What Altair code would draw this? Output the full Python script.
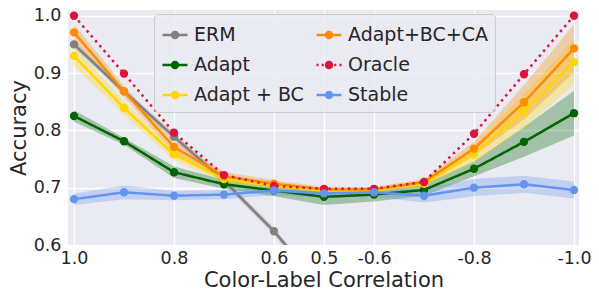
import json
import altair as alt
import pandas as pd

# ---------------- data ----------------
corr_labels = ['1.0', '0.9', '0.8', '0.7', '0.6', '0.5', '-0.6', '-0.7', '-0.8', '-0.9', '-1.0']
tick_positions = [0, 2, 4, 5, 6, 8, 10]

series_names = ["ERM", "Adapt", "Adapt + BC", "Adapt+BC+CA", "Oracle", "Stable"]
series_colors = ["#808080", "#006400", "#FFD700", "#FF8C00", "#DC143C", "#6495ED"]

erm_mean = [0.950, 0.868, 0.789, 0.712, 0.624, 0.520, 0.430, 0.350, 0.270, 0.200, 0.130]
erm_std = [0.006, 0.005, 0.006, 0.006, 0.006, 0.006, 0.006, 0.006, 0.006, 0.006, 0.006]

adapt_mean = [0.825, 0.781, 0.727, 0.706, 0.695, 0.684, 0.688, 0.696, 0.733, 0.780, 0.830]
adapt_std = [0.010, 0.006, 0.010, 0.008, 0.010, 0.014, 0.012, 0.010, 0.013, 0.026, 0.039]

bc_mean = [0.930, 0.839, 0.758, 0.715, 0.703, 0.695, 0.695, 0.707, 0.758, 0.834, 0.919]
bc_std = [0.018, 0.012, 0.010, 0.006, 0.005, 0.004, 0.004, 0.005, 0.015, 0.030, 0.040]

bcca_mean = [0.971, 0.868, 0.771, 0.720, 0.707, 0.697, 0.697, 0.710, 0.768, 0.849, 0.943]
bcca_std = [0.015, 0.010, 0.010, 0.008, 0.006, 0.004, 0.004, 0.005, 0.012, 0.030, 0.042]

oracle_mean = [1.000, 0.899, 0.796, 0.722, 0.703, 0.698, 0.698, 0.710, 0.794, 0.898, 1.000]

stable_mean = [0.680, 0.692, 0.686, 0.688, 0.695, 0.690, 0.692, 0.686, 0.700, 0.706, 0.696]
stable_std = [0.010, 0.012, 0.008, 0.008, 0.008, 0.008, 0.008, 0.012, 0.015, 0.015, 0.015]

means = [erm_mean, adapt_mean, bc_mean, bcca_mean, oracle_mean, stable_mean]
stds = [erm_std, adapt_std, bc_std, bcca_std, None, stable_std]

# a different domain order for the drawn marks, so their hidden legends stay
# separate from the visible (series-ordered) legend
draw_order = ["Stable", "ERM", "Adapt", "Adapt + BC", "Adapt+BC+CA", "Oracle"]
draw_colors = [series_colors[series_names.index(n)] for n in draw_order]

rows, band_rows = [], []
for name, m, s in zip(series_names, means, stds):
    for i, v in enumerate(m):
        rows.append({"series": name, "idx": i, "acc": v})
        if s is not None:
            band_rows.append({"series": name, "idx": i, "lo": v - s[i], "hi": v + s[i]})
df = pd.DataFrame(rows)
df_band = pd.DataFrame(band_rows)

# ---------------- encodings ----------------
FONT = "DejaVu Sans"
TXT = "#262626"

label_expr = json.dumps(corr_labels) + "[datum.value]"

X = alt.X("idx:Q", scale=alt.Scale(domain=[-0.12, 10.1], nice=False, zero=False),
          axis=alt.Axis(values=tick_positions, labelExpr=label_expr,
                        title="Color-Label Correlation"))
Y_SCALE = alt.Scale(domain=[0.6, 1.01], nice=False, zero=False)
Y_AXIS = alt.Axis(values=[0.6, 0.7, 0.8, 0.9, 1.0], format=".1f", title="Accuracy")


def data_scale():
    return alt.Scale(domain=draw_order, range=draw_colors)


dash_range = [[2.5, 4] if n == "Oracle" else [1, 0] for n in draw_order]

disc = ("M-0.24,0A0.24,0.24,0,1,0,0.24,0A0.24,0.24,0,1,0,-0.24,0"
        "M-0.1,0A0.1,0.1,0,1,0,0.1,0A0.1,0.1,0,1,0,-0.1,0")
solid_path = "M-1,0L1,0" + disc
dotted_path = "M-1,0L-0.84,0M-0.58,0L-0.42,0M0.42,0L0.58,0M0.84,0L1,0" + disc
shape_range = [dotted_path if n == "Oracle" else solid_path for n in series_names]

legend_kw = dict(title=None, orient="none", legendX=86, legendY=4, columns=2,
                 columnPadding=7, rowPadding=6, symbolSize=625, symbolStrokeWidth=2.5,
                 symbolOpacity=1,
                 labelFontSize=19, labelFont=FONT, labelColor=TXT, labelOffset=5,
                 padding=7, fillColor="rgba(234,234,242,0.8)", strokeColor="#CCCCCC",
                 cornerRadius=4)

bands = alt.Chart(df_band).mark_area(opacity=0.3, clip=True).encode(
    x=X,
    y=alt.Y("lo:Q", scale=Y_SCALE, axis=Y_AXIS),
    y2="hi:Q",
    fill=alt.Fill("series:N", scale=data_scale(), legend=None),
)

lines = alt.Chart(df).mark_line(strokeWidth=2.5, clip=True).encode(
    x=X,
    y=alt.Y("acc:Q", scale=Y_SCALE, axis=Y_AXIS),
    stroke=alt.Stroke("series:N", scale=data_scale(), legend=None),
    strokeDash=alt.StrokeDash("series:N", scale=alt.Scale(domain=draw_order, range=dash_range),
                              legend=None),
)

points = alt.Chart(df).mark_circle(size=70, opacity=1, clip=True).encode(
    x=X,
    y=alt.Y("acc:Q", scale=Y_SCALE, axis=Y_AXIS),
    fill=alt.Fill("series:N", scale=data_scale(), legend=None),
)

legend_layer = alt.Chart(df).mark_point(
    filled=False, opacity=0, strokeWidth=2.5, size=625, clip=True
).encode(
    x=X,
    y=alt.Y("acc:Q", scale=Y_SCALE, axis=Y_AXIS),
    color=alt.Color("series:N", scale=alt.Scale(domain=series_names, range=series_colors),
                    legend=alt.Legend(**legend_kw)),
    shape=alt.Shape("series:N", scale=alt.Scale(domain=series_names, range=shape_range),
                    legend=alt.Legend(**legend_kw)),
)

chart = alt.layer(bands, lines, points, legend_layer).properties(
    width=511, height=235,
    autosize=alt.AutoSizeParams(type="none"),
    padding={"left": 60, "top": 2, "right": 12, "bottom": 52},
).configure_view(
    fill="#EAEAF2", stroke=None
).configure_axis(
    labelFont=FONT, titleFont=FONT, labelFontSize=17.5, titleFontSize=21,
    labelColor=TXT, titleColor=TXT, titleFontWeight="normal",
    grid=True, gridColor="white", gridWidth=1.3, gridOpacity=1,
    domain=False, ticks=False,
).configure_axisX(
    labelPadding=4, titlePadding=3
).configure_axisY(
    labelPadding=7, titlePadding=4
)

chart.save("out.html", embed_options={"renderer": "svg", "actions": False})
